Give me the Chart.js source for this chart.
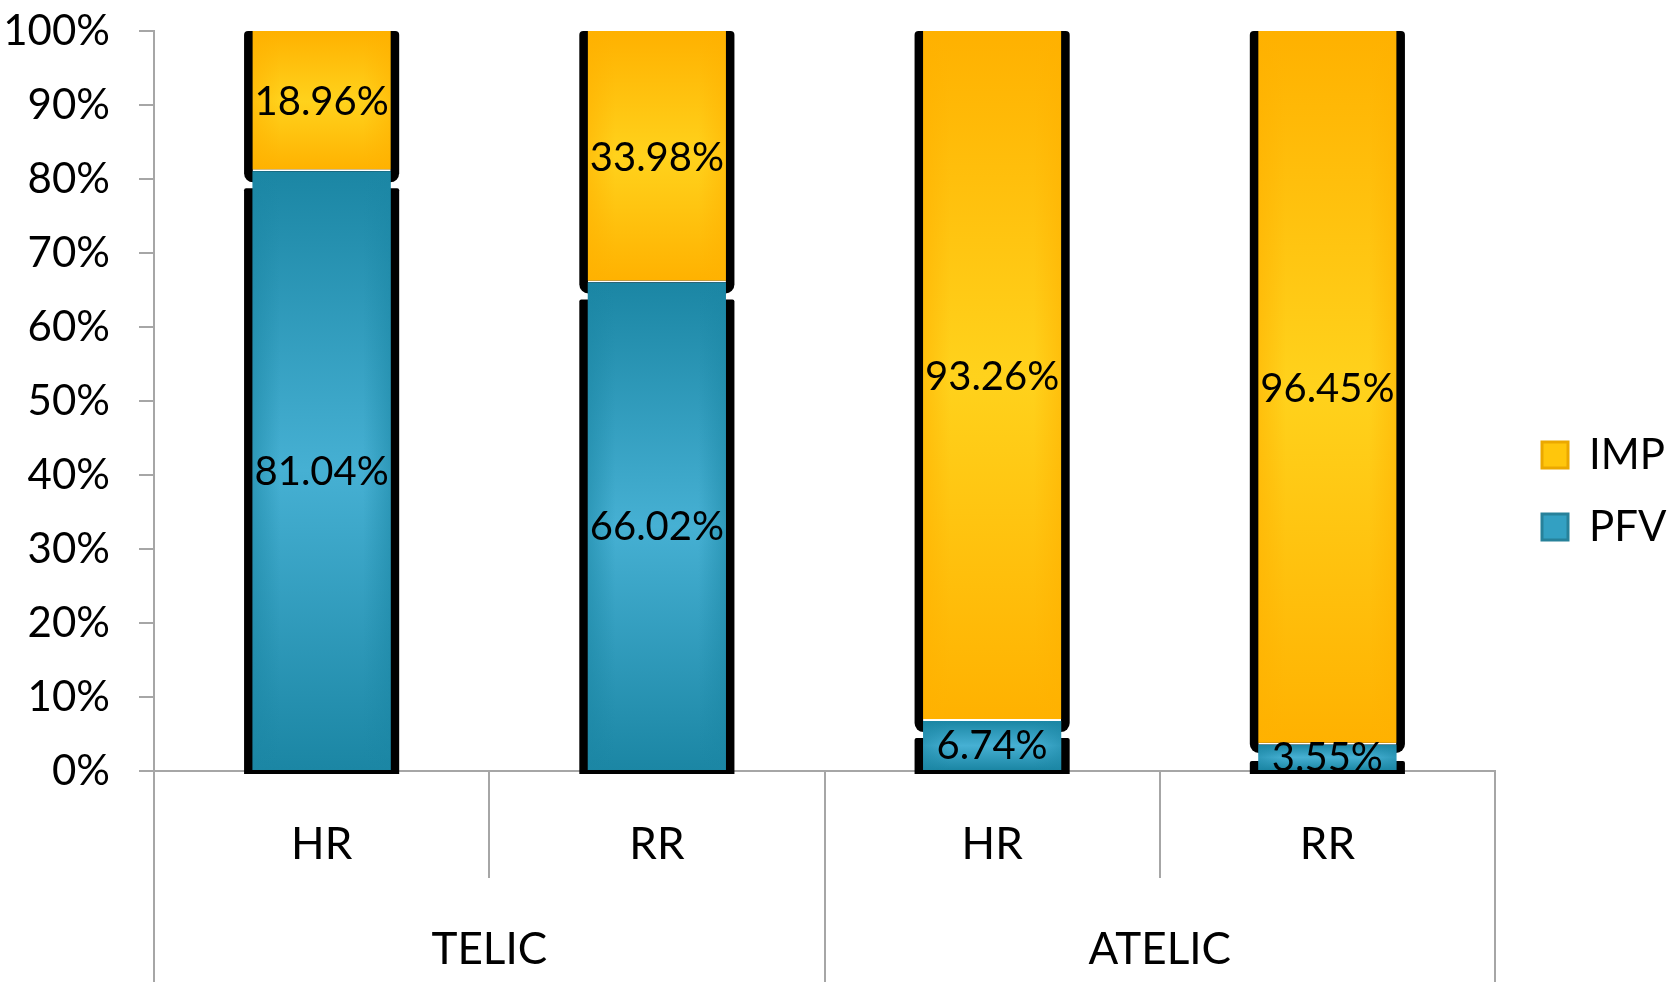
<!DOCTYPE html>
<html><head><meta charset="utf-8">
<script src="https://cdn.jsdelivr.net/npm/chart.js@4.4.0/dist/chart.umd.min.js"></script>
<style>html,body{margin:0;padding:0;background:#fff;}#wrap{width:1675px;height:982px;}</style>
</head><body><div id="wrap"><canvas id="c" width="1675" height="982"></canvas></div>
<script>
// ---- data ----
const subCategories = ['HR', 'RR', 'HR', 'RR'];
const groupCategories = ['TELIC', 'ATELIC'];
const seriesNames = ['PFV', 'IMP'];
const pfvValues = [81.04, 66.02, 6.74, 3.55];
const impValues = [18.96, 33.98, 93.26, 96.45];
const yMin = 0, yMax = 100, yStep = 10;

// ---- styles ----
const FONT = 'Lato, "Open Sans", sans-serif';
const AXIS = '#A6A6A6';
const palette = {
  PFV: { edge: [27, 134, 164], mid: [70, 176, 211], box: '#33A0C2', border: '#27819A' },
  IMP: { edge: [255, 177, 0], mid: [255, 210, 28], box: '#FFC60C', border: '#EBA800' }
};
const rgb = (c, a) => `rgba(${c[0]},${c[1]},${c[2]},${a === undefined ? 1 : a})`;

const barDecor = {
  id: 'barDecor',
  beforeDatasetsDraw(chart) {
    const { ctx, chartArea: { bottom } } = chart;
    ctx.save();
    ctx.fillStyle = '#000';
    chart.data.datasets.forEach((ds, di) => {
      const meta = chart.getDatasetMeta(di);
      meta.data.forEach(el => {
        const { x, y, base, width } = el.getProps(['x', 'y', 'base', 'width'], true);
        const l = x - width / 2 - 8.5, w = width + 17;
        let t, b, r;
        if (ds.label === 'IMP') { t = y; b = Math.min(base + 11, bottom - 18); r = [4, 4, 9, 9]; }
        else { t = Math.min(y + 17, bottom - 10); b = bottom + 3; r = [2, 2, 0, 0]; }
        ctx.beginPath(); ctx.roundRect(l, t, w, b - t, r); ctx.fill();
        const c = palette[ds.label];
        const g = ctx.createLinearGradient(0, y, 0, base);
        g.addColorStop(0, rgb(c.edge)); g.addColorStop(0.5, rgb(c.mid)); g.addColorStop(1, rgb(c.edge));
        el.options = Object.assign({}, el.options, { backgroundColor: g });
      });
    });
    ctx.restore();
  },
  afterDatasetsDraw(chart) {
    const { ctx } = chart;
    ctx.save();
    chart.data.datasets.forEach((ds, di) => {
      const meta = chart.getDatasetMeta(di);
      const c = palette[ds.label];
      meta.data.forEach(el => {
        const { x, y, base, width } = el.getProps(['x', 'y', 'base', 'width'], true);
        const l = x - width / 2;
        const hg = ctx.createLinearGradient(l, 0, l + width, 0);
        hg.addColorStop(0, rgb(c.edge, 0.55)); hg.addColorStop(0.2, rgb(c.edge, 0));
        hg.addColorStop(0.8, rgb(c.edge, 0)); hg.addColorStop(1, rgb(c.edge, 0.55));
        ctx.fillStyle = hg;
        ctx.fillRect(l, y, width, base - y - (ds.label === 'IMP' ? 2 : 0));
      });
    });
    ctx.font = `40px ${FONT}`;
    ctx.fillStyle = '#000';
    ctx.textAlign = 'center';
    ctx.textBaseline = 'middle';
    chart.data.datasets.forEach((ds, di) => {
      const meta = chart.getDatasetMeta(di);
      meta.data.forEach((el, i) => {
        const { x, y, base } = el.getProps(['x', 'y', 'base'], true);
        ctx.fillText(ds.data[i].toFixed(2) + '%', x, (y + base) / 2 + 1);
      });
    });
    ctx.restore();
  }
};

new Chart(document.getElementById('c'), {
  type: 'bar',
  data: {
    labels: subCategories,
    datasets: [
      { label: seriesNames[0], data: pfvValues, backgroundColor: palette.PFV.box,
        borderWidth: 0, borderSkipped: false },
      { label: seriesNames[1], data: impValues, backgroundColor: palette.IMP.box,
        borderColor: '#FFFFFF', borderWidth: { top: 0, left: 0, right: 0, bottom: 2 }, borderSkipped: false }
    ]
  },
  options: {
    responsive: false,
    animation: false,
    devicePixelRatio: 1,
    layout: { padding: { top: 0, left: 0, right: 0, bottom: 0 } },
    datasets: { bar: { categoryPercentage: 1, barPercentage: 0.412 } },
    plugins: {
      tooltip: { enabled: false },
      title: { display: true, text: '', fullSize: false, font: { size: 31, lineHeight: 1 }, padding: 0 },
      legend: {
        position: 'right',
        maxWidth: 163,
        labels: {
          font: { family: FONT, size: 42 },
          color: '#000',
          boxWidth: 26, boxHeight: 26,
          padding: 30,
          generateLabels: (chart) => chart.data.datasets.map((ds, i) => ({
            text: ds.label,
            fillStyle: palette[ds.label].box,
            strokeStyle: palette[ds.label].border,
            lineWidth: 3,
            datasetIndex: i,
            hidden: false,
            fontColor: '#000'
          })).reverse()
        }
      }
    },
    scales: {
      x: {
        stacked: true,
        offset: true,
        grid: { offset: true, drawOnChartArea: false, color: AXIS, lineWidth: 2, tickLength: 107 },
        border: { display: true, color: AXIS, width: 2 },
        ticks: { font: { family: FONT, size: 44 }, color: '#000', padding: -60, maxRotation: 0, autoSkip: false },
        afterFit: s => { s.height = 107; }
      },
      x2: {
        type: 'category',
        labels: groupCategories,
        position: 'bottom',
        offset: true,
        weight: 10,
        grid: { offset: true, drawOnChartArea: false, color: AXIS, lineWidth: 2, tickLength: 104 },
        border: { display: false },
        ticks: { font: { family: FONT, size: 44 }, color: '#000', padding: -59, maxRotation: 0, autoSkip: false },
        afterFit: s => { s.height = 104; }
      },
      y: {
        stacked: true,
        min: yMin, max: yMax,
        ticks: { stepSize: yStep, callback: v => v + '%', font: { family: FONT, size: 42 }, color: '#000', padding: 29 },
        grid: { drawOnChartArea: false, color: AXIS, lineWidth: 2, tickLength: 15 },
        border: { display: true, color: AXIS, width: 2 },
        afterFit: s => { s.width = 154; s.paddingTop = 0; s.paddingBottom = 0; }
      },
      y2: {
        type: 'linear',
        position: 'right',
        grid: { display: false },
        border: { display: false },
        ticks: { display: false },
        afterFit: s => { s.width = 17; s.paddingTop = 0; s.paddingBottom = 0; }
      }
    }
  },
  plugins: [barDecor]
});
</script>
</body></html>
